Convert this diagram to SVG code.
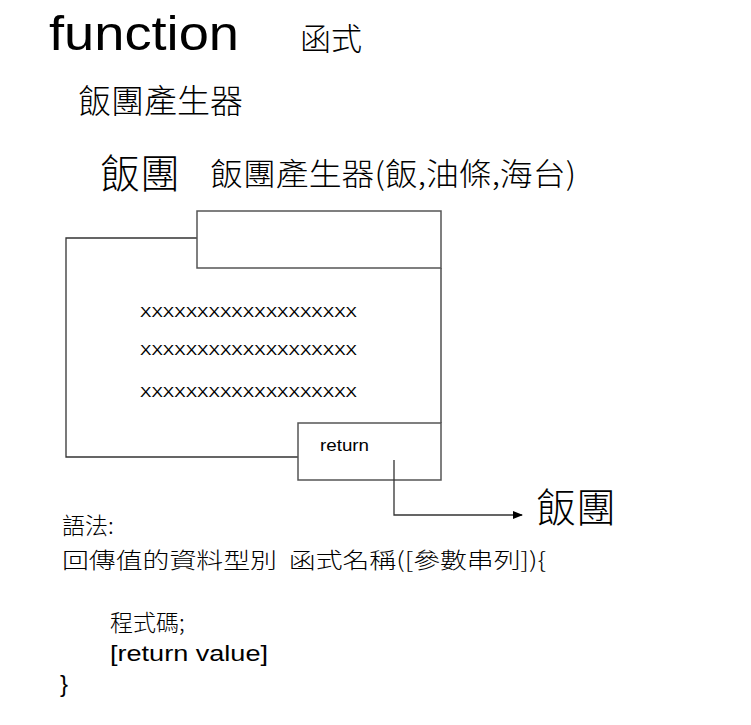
<svg xmlns="http://www.w3.org/2000/svg" width="751" height="725" viewBox="0 0 751 725">
<style>
.t{font-family:"Liberation Sans","Noto Sans CJK TC",sans-serif;fill:#000}
.c{font-family:"Noto Sans CJK TC","Liberation Sans",sans-serif;fill:#000;font-weight:300}
.ln{fill:none;stroke:#333;stroke-width:1.3}
.bx{fill:#fff;stroke:#555;stroke-width:1.5}
</style>
<defs>
<marker id="ah" markerWidth="10" markerHeight="8" refX="9" refY="4" orient="auto" markerUnits="userSpaceOnUse">
<path d="M0,0 L10,4 L0,8 Z" fill="#000"/>
</marker>
</defs>
<rect width="751" height="725" fill="#fff"/>
<g id="title">
<text class="t" x="49" y="50" font-size="48" textLength="190" lengthAdjust="spacingAndGlyphs">function</text>
<text class="c" x="300" y="50" font-size="31">函式</text>
<text class="c" x="78" y="113" font-size="33">飯團產生器</text>
<text class="c" x="100" y="188" font-size="40">飯團</text>
<text class="c" x="210" y="185" font-size="31" textLength="366" lengthAdjust="spacingAndGlyphs">飯團產生器(飯,油條,海台)</text>
</g>
<g id="function-body">
<polyline class="ln" points="197,238 66,238 66,457 298,457"/>
<line class="ln" x1="441" y1="268" x2="441" y2="423"/>
<text class="t" x="140" y="317" font-size="15" textLength="217" lengthAdjust="spacingAndGlyphs">XXXXXXXXXXXXXXXXXXX</text>
<text class="t" x="140" y="355" font-size="15" textLength="217" lengthAdjust="spacingAndGlyphs">XXXXXXXXXXXXXXXXXXX</text>
<text class="t" x="140" y="397" font-size="15" textLength="217" lengthAdjust="spacingAndGlyphs">XXXXXXXXXXXXXXXXXXX</text>
</g>
<g id="params-box">
<rect class="bx" x="197" y="211" width="244" height="57"/>
</g>
<g id="return-box">
<rect class="bx" x="298" y="423" width="143" height="57" style="fill:none"/>
<text class="t" x="320" y="451" font-size="17" textLength="49" lengthAdjust="spacingAndGlyphs">return</text>
</g>
<g id="connectors">
<polyline class="ln" points="394,460 394,515 522,515" marker-end="url(#ah)"/>
</g>
<g id="result">
<text class="c" x="536" y="522" font-size="40">飯團</text>
</g>
<g id="syntax">
<text class="c" x="62" y="534" font-size="23">語法:</text>
<text class="c" x="62" y="568" font-size="22" textLength="484" lengthAdjust="spacingAndGlyphs">回傳值的資料型別&#160;&#160;函式名稱([參數串列]){</text>
<text class="c" x="110" y="631" font-size="23">程式碼;</text>
<text class="t" x="110" y="661" font-size="22" textLength="158" lengthAdjust="spacingAndGlyphs">[return value]</text>
<text class="t" x="60" y="692" font-size="24">}</text>
</g>
</svg>
